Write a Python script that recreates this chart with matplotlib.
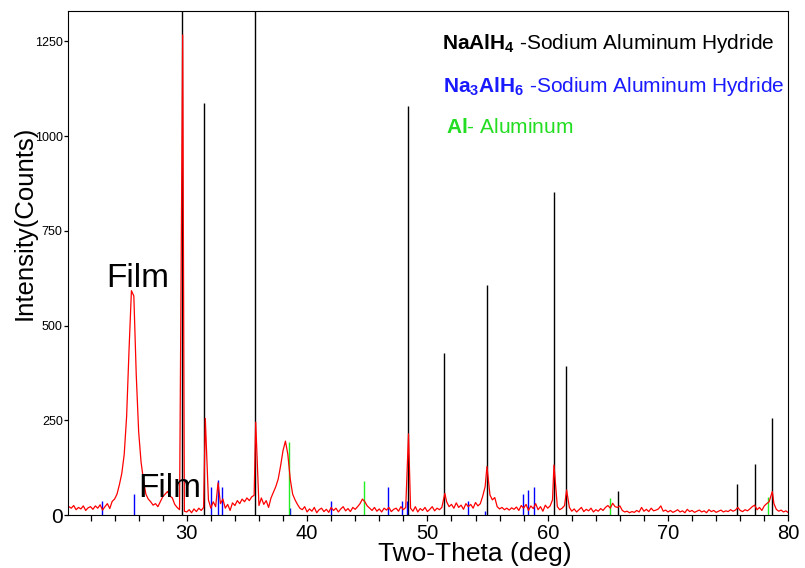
import numpy as np
import matplotlib
matplotlib.use("Agg")
import matplotlib.pyplot as plt

plt.rcParams['font.family'] = ['Liberation Sans', 'DejaVu Sans']
plt.rcParams['mathtext.fontset'] = 'custom'
plt.rcParams['mathtext.rm'] = 'Liberation Sans'
plt.rcParams['mathtext.bf'] = 'Liberation Sans:bold'

# ------------------------------
# measured scan (red), 0.2 deg steps from 20.2 to 80.0
# ------------------------------
scan_2theta = np.linspace(20.2, 80.0, 300)
scan_counts = [
    22, 18, 25, 14, 20, 16, 24, 12, 19, 22,
    15, 24, 18, 27, 13, 22, 30, 17, 36, 42,
    55, 80, 110, 160, 260, 435, 592, 578, 370, 220,
    140, 92, 55, 42, 35, 26, 30, 22, 35, 48,
    55, 62, 50, 45, 28, 20, 14, 12, 10, 8,
    14, 6, 16, 9, 18, 12, 20, 70, 40, 18,
    35, 22, 85, 30, 42, 18, 28, 12, 32, 25,
    38, 30, 42, 35, 45, 38, 48, 52, 60, 25,
    45, 28, 38, 20, 45, 60, 75, 95, 130, 170,
    195, 160, 95, 55, 40, 28, 18, 14, 22, 8,
    16, 10, 20, 6, 14, 18, 9, 15, 7, 20,
    12, 18, 8, 16, 22, 11, 17, 9, 20, 15,
    22, 30, 42, 35, 24, 18, 12, 20, 10, 16,
    8, 18, 13, 20, 9, 15, 18, 10, 22, 14,
    20, 30, 18, 10, 22, 8, 17, 12, 20, 9,
    15, 22, 11, 18, 14, 20, 40, 35, 22, 28,
    18, 32, 20, 26, 15, 30, 22, 28, 18, 33,
    24, 30, 50, 75, 90, 53, 40, 46, 22, 16,
    20, 14, 18, 13, 19, 15, 21, 12, 25, 18,
    28, 12, 24, 17, 30, 14, 22, 10, 26, 18,
    24, 40, 45, 22, 14, 18, 25, 30, 20, 10,
    16, 8, 14, 20, 9, 15, 11, 18, 8, 14,
    10, 17, 12, 20, 25, 18, 31, 22, 20, 24,
    12, 8, 10, 6, 9, 7, 12, 8, 20, 10,
    15, 9, 18, 11, 13, 16, 24, 10, 13, 8,
    12, 7, 10, 14, 8, 11, 6, 15, 9, 12,
    7, 10, 13, 8, 11, 6, 14, 9, 12, 7,
    10, 13, 8, 11, 9, 14, 10, 13, 20, 12,
    9, 14, 11, 16, 22, 26, 14, 20, 12, 24,
    30, 35, 40, 30, 15, 10, 13, 8, 11, 6,
]

# sharp reflections of the scan
peak_2theta = [29.66, 31.54, 35.73, 48.43, 51.45, 54.95, 60.52, 61.57, 78.67]
peak_counts = [1267, 255, 245, 214, 57, 128, 132, 66, 62]

# ------------------------------
# reference patterns (sticks)
# ------------------------------
naalh4_pos = [29.60, 31.46, 35.70, 48.38, 51.40, 54.95, 60.49, 61.55, 65.82, 75.71, 77.21, 78.66]
naalh4_int = [1500, 1088, 1500, 1080, 427, 607, 853, 392, 64, 83, 135, 257]

na3alh6_pos = [22.92, 25.63, 31.99, 32.57, 32.95, 38.59, 42.00, 46.76, 47.88, 48.30,
               53.34, 54.81, 57.97, 58.39, 58.83]
na3alh6_int = [37, 55, 74, 92, 74, 19, 37, 74, 37, 37, 37, 10, 55, 66, 74]

al_pos = [38.48, 44.74, 65.18, 78.27]
al_int = [193, 91, 44, 47]

# merge scan grid with the sharp peaks
scan_counts = np.array(scan_counts, dtype=float)
keep = np.array([min(abs(t - p) for p in peak_2theta) > 0.085 for t in scan_2theta])
x = np.concatenate([scan_2theta[keep], peak_2theta])
y = np.concatenate([scan_counts[keep], peak_counts])
order = np.argsort(x)
x, y = x[order], y[order]

fig = plt.figure(figsize=(8.05, 5.68), dpi=100)
ax = fig.add_axes([0.0848, 0.0933, 0.8945, 0.8873])

ax.vlines(naalh4_pos, 0, naalh4_int, colors='black', lw=1.0)
ax.vlines(na3alh6_pos, 0, na3alh6_int, colors='#0000ff', lw=1.0)
ax.vlines(al_pos, 0, al_int, colors='#22ee22', lw=1.0)
ax.plot(x, y, color='red', lw=0.9)

ax.set_xlim(20.15, 80)
ax.set_ylim(0, 1330)

ax.set_xticks([30, 40, 50, 60, 70, 80])
ax.set_xticks(np.arange(22, 80, 2), minor=True)
ax.tick_params(axis='x', which='both', direction='out', length=4, width=0.9,
               labelsize=14.5, pad=2.5)
ax.set_yticks([0, 250, 500, 750, 1000, 1250])
ax.tick_params(axis='y', direction='out', length=3, width=0.9, labelsize=9, pad=1)
ax.get_yticklabels()[0].set_fontsize(15)

ax.set_xlabel("Two-Theta (deg)", fontsize=19)
ax.xaxis.set_label_coords(0.564, -0.078)
ax.xaxis.label.set_va('center')
ax.set_ylabel("Intensity(Counts)", fontsize=18.5)
ax.yaxis.set_label_coords(-0.061, 0.579)
ax.yaxis.label.set_va('center')

ax.text(23.34, 602, "Film", fontsize=24, va='baseline')
ax.text(25.94, 48, "Film", fontsize=24, va='baseline')

ax.text(0.5186, 0.924, r"$\mathbf{NaAlH_4}$ -Sodium Aluminum Hydride",
        transform=ax.transAxes, fontsize=15, color='black', va='baseline')
ax.text(0.521, 0.840, r"$\mathbf{Na_3AlH_6}$ -Sodium Aluminum Hydride",
        transform=ax.transAxes, fontsize=15, color='#1a1aff', va='baseline')
ax.text(0.525, 0.757, r"$\mathbf{Al}$- Aluminum",
        transform=ax.transAxes, fontsize=15, color='#22dd22', va='baseline')

fig.savefig("out.png", dpi=100)
